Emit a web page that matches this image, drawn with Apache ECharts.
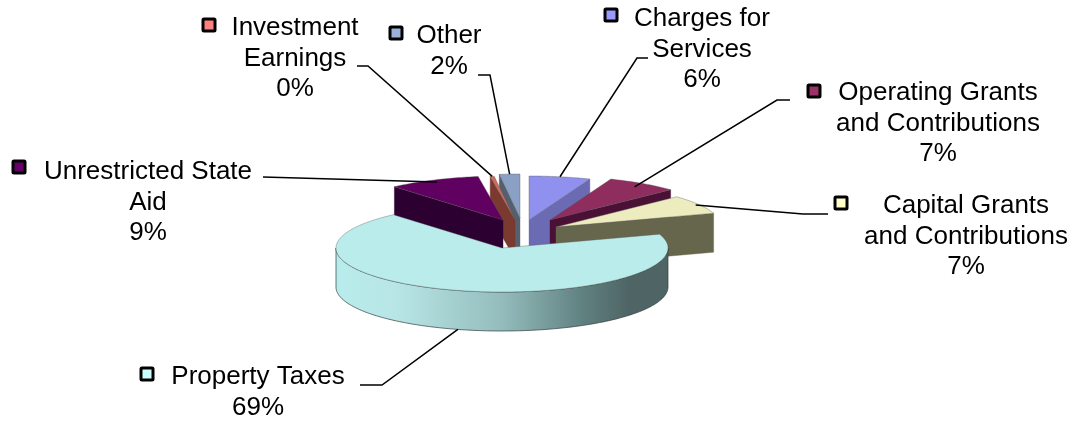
<!DOCTYPE html>
<html><head><meta charset="utf-8">
<style>html,body{margin:0;padding:0;background:#fff}#c{width:1075px;height:421px}</style>
<script src="https://cdn.jsdelivr.net/npm/echarts@6/dist/echarts.min.js"></script>
</head><body><div id="c"></div>
<script>
// ---- data ----
const categories = ['Charges for Services','Operating Grants and Contributions','Capital Grants and Contributions','Property Taxes','Unrestricted State Aid','Investment Earnings','Other'];
const values = [6, 7, 7, 69, 9, 0.4, 2];
const wrappedNames = ['Charges for\nServices','Operating Grants\nand Contributions','Capital Grants\nand Contributions','Property Taxes','Unrestricted State\nAid','Investment\nEarnings','Other'];

// ---- styles ----
const topColors  = ['#9090ee','#8e2d5e','#ececbe','#bbecec','#600060','#d06a60','#8aa0c5'];
const wallColors = ['#6b6bb3','#4a1035','#66664d','#4f6565','#2c0030','#7a3a30','#55606e'];
const keyColors  = ['#9999ff','#993366','#ffffcc','#ccffff','#660066','#ff8080','#99b0d8'];
const sliceZ     = [4,5,6,7,3,2,1];

// ---- layout ----
const centre = [518,233], rx = 166, ry = 44, depth = 39;
const explodeOffset = [[11,-13],[32,-13],[38,-6],[-16,15],[-15,-13],[-3,-13],[2,-15]];
const keyPos    = [[611,15],[814,91],[841,203],[147,374],[19,167],[209,25],[396,33]];
const labelMid  = [[702,19],[938,93],[966,206],[258,377],[148,172],[295,28],[449,36]];
const leaderRim = [1,0.91,0.98,1,0.95,1,1];
const leaderOnWall = [0,0,0,1,0,0,0];
const leaderElbow = [
  [[648,58],[637,58]],[[790,100],[777,100]],[[828,214],[803,214]],[[360,385],[382,385]],
  [[263,177]],[[357,66],[368,66]],[[478,75],[490,75]]
];
const fontFamily = '"Liberation Sans", Arial, sans-serif', fontSize = 26, lineHeight = 30.5;

const total = values.reduce((a,b)=>a+b,0);
let acc = 0;
const ranges = values.map(v=>{const a=acc/total*360; acc+=v; return [a,acc/total*360];});
const rad = d=>d*Math.PI/180;
const apexOf = i=>[centre[0]+explodeOffset[i][0], centre[1]+explodeOffset[i][1]];
const rim = (A,d,r=1)=>[A[0]+rx*r*Math.sin(rad(d)), A[1]-ry*r*Math.cos(rad(d))];
const down = p=>[p[0],p[1]+depth];
function arc(A,a,b){const n=Math.max(2,Math.ceil(Math.abs(b-a)));const o=[];for(let k=0;k<=n;k++)o.push(rim(A,a+(b-a)*k/n));return o;}

function renderSlice(params, api){
  const i = params.dataIndex, A = apexOf(i), [a0,a1] = ranges[i], z2 = sliceZ[i]*10;
  const ch = [];
  const poly=(points,fill,z,stroke)=>ch.push({type:'polygon',z2:z,shape:{points},style:{fill,stroke:stroke||fill,lineWidth:stroke?0.7:0.4}});
  if(Math.sin(rad(a0))<0) poly([A,rim(A,a0),down(rim(A,a0)),down(A)],wallColors[i],z2);
  if(Math.sin(rad(a1))>0) poly([A,rim(A,a1),down(rim(A,a1)),down(A)],wallColors[i],z2);
  const f0=Math.max(a0,90), f1=Math.min(a1,270);
  if(f1>f0){
    const top=arc(A,f0,f1);
    const fill=new echarts.graphic.LinearGradient(1,0,0,0,[
      {offset:0,color:'#b8ecec'},{offset:0.18,color:'#b8e6e6'},{offset:0.5,color:'#94bcbc'},
      {offset:0.75,color:'#5f7f7f'},{offset:0.88,color:wallColors[i]},{offset:1,color:wallColors[i]}].map(s=>({offset:1-s.offset,color:s.color})).reverse());
    ch.push({type:'polygon',z2:z2+1,shape:{points:top.concat(top.map(down).reverse())},style:{fill,stroke:'rgba(50,60,60,.7)',lineWidth:1}});
  }
  poly([A].concat(arc(A,a0,a1)),topColors[i],z2+2,'rgba(90,90,90,.55)');
  return {type:'group',children:ch};
}
function renderLabel(params, api){
  const i = params.dataIndex, [a0,a1]=ranges[i], A=apexOf(i);
  let end = rim(A,(a0+a1)/2,leaderRim[i]);
  if(leaderOnWall[i]) end = down(end);
  const pct = Math.round(values[i]/total*100)+'%';
  return {type:'group',children:[
    {type:'polyline',z2:100,shape:{points:leaderElbow[i].concat([end])},style:{fill:null,stroke:'#000',lineWidth:1.5}},
    {type:'rect',z2:100,shape:{x:keyPos[i][0]-6,y:keyPos[i][1]-6,width:12,height:12,r:1},style:{fill:keyColors[i],stroke:'#000',lineWidth:3}},
    {type:'text',z2:100,style:{text:wrappedNames[i]+'\n'+pct,x:labelMid[i][0],y:labelMid[i][1]-lineHeight/2,
      fill:'#000',fontFamily,fontSize,lineHeight,align:'center',verticalAlign:'top'}}
  ]};
}
const chart = echarts.init(document.getElementById('c'),null,{renderer:'canvas'});
const rows = categories.map((c,i)=>({name:c,value:values[i]}));
chart.setOption({animation:false,backgroundColor:'#fff',tooltip:{show:false},
  series:[
   {type:'custom',coordinateSystem:'none',renderItem:renderSlice,data:rows,silent:true,z:1},
   {type:'custom',coordinateSystem:'none',renderItem:renderLabel,data:rows,silent:true,z:2}
  ]});
</script></body></html>
